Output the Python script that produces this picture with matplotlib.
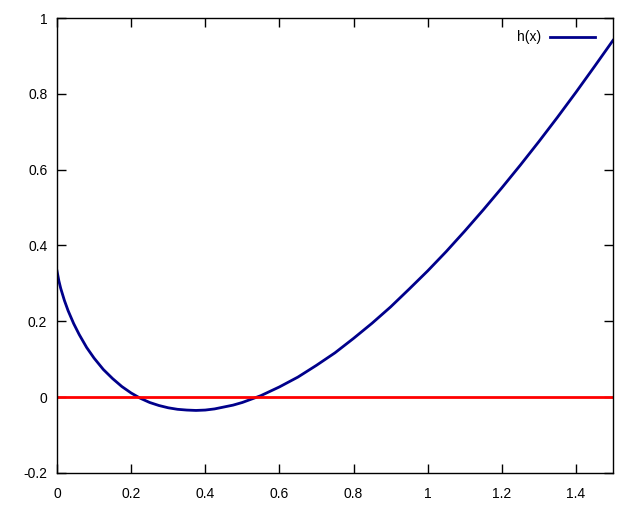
import matplotlib
matplotlib.use("Agg")
import matplotlib.pyplot as plt

plt.rcParams["font.family"] = ["Liberation Sans", "DejaVu Sans"]

# values (denser where the curve bends hard)
x = [0, 0.005, 0.01, 0.02, 0.03, 0.045, 0.06, 0.08, 0.1, 0.125, 0.15, 0.175,
     0.2, 0.225, 0.25, 0.275, 0.3, 0.325, 0.35, 0.375, 0.4, 0.425, 0.45,
     0.475, 0.5, 0.55, 0.6, 0.65, 0.7, 0.75, 0.8, 0.85, 0.9, 0.95, 1.0, 1.05,
     1.1, 1.15, 1.2, 1.25, 1.3, 1.35, 1.4, 1.45, 1.5]
h = [0.333, 0.307, 0.287, 0.255, 0.228, 0.194, 0.165, 0.131, 0.103, 0.073,
     0.049, 0.028, 0.011, -0.003, -0.014, -0.022, -0.028, -0.032, -0.034,
     -0.035, -0.034, -0.031, -0.026, -0.021, -0.014, 0.004, 0.027, 0.053,
     0.084, 0.117, 0.155, 0.195, 0.238, 0.285, 0.333, 0.384, 0.438, 0.494,
     0.552, 0.612, 0.674, 0.738, 0.804, 0.872, 0.941]
zero_x = [0, 1.5]
zero_y = [0, 0]

xticks = [0, 0.2, 0.4, 0.6, 0.8, 1, 1.2, 1.4]
yticks = [-0.2, 0, 0.2, 0.4, 0.6, 0.8, 1]

fig = plt.figure(figsize=(6.4, 5.12), dpi=100)
ax = fig.add_axes([57 / 640, 1 - 473 / 512, 556 / 640, 455 / 512])

ax.plot(x, h, color="#00008b", lw=2, label="h(x)")
ax.plot(zero_x, zero_y, color="red", lw=2)

ax.set_xlim(0, 1.5)
ax.set_ylim(-0.2, 1)
ax.set_xticks(xticks)
ax.set_xticklabels([f"{v:g}" for v in xticks])
ax.set_yticks(yticks)
ax.set_yticklabels([f"{v:g}" for v in yticks])
ax.tick_params(direction="in", top=True, right=True, length=6.5, width=1,
               labelsize=10)
ax.tick_params(axis="x", pad=10)
ax.tick_params(axis="y", pad=7)
for s in ax.spines.values():
    s.set_linewidth(1)

ax.legend(loc="upper right", bbox_to_anchor=(0.99, 1), frameon=False,
          fontsize=10, markerfirst=False, handlelength=3.2, handletextpad=0.7,
          borderaxespad=0.5)

fig.savefig("out.png", dpi=100)
